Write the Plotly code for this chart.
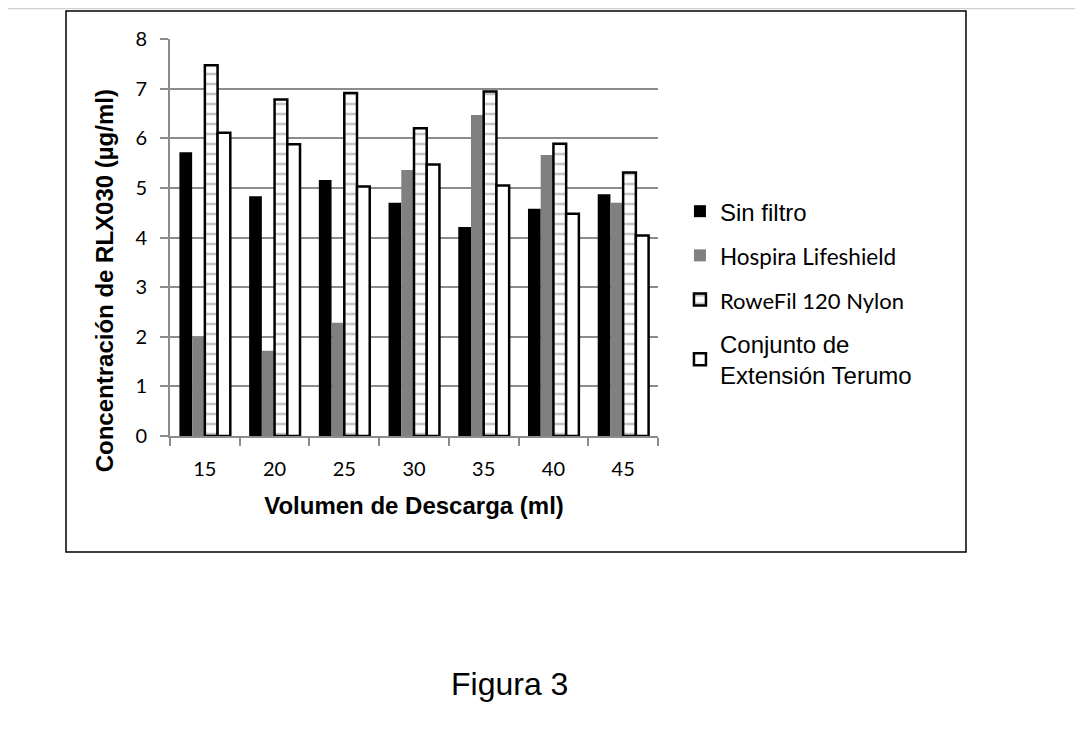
import plotly.graph_objects as go

volumes = ["15", "20", "25", "30", "35", "40", "45"]
sin_filtro = [5.72, 4.83, 5.16, 4.70, 4.21, 4.58, 4.87]
hospira = [1.99, 1.72, 2.28, 5.36, 6.47, 5.66, 4.70]
rowefil = [7.47, 6.78, 6.91, 6.20, 6.94, 5.89, 5.31]
terumo = [6.11, 5.88, 5.03, 5.47, 5.05, 4.48, 4.04]

series_names = [
    'Sin filtro',
    '<span style="font-family:Lato;font-size:22.5px">Hospira Lifeshield</span>',
    '<span style="font-family:Lato;font-size:22px">RoweFil 120 Nylon</span>',
    'Conjunto de<br>Extensión Terumo',
]

GRID = "#8c8c8c"
ARIAL = "Liberation Sans, Arial"

fig = go.Figure()
fig.add_trace(go.Bar(x=volumes, y=sin_filtro, name=series_names[0], legendgroup="a",
                     marker=dict(color="black", line=dict(width=0))))
fig.add_trace(go.Bar(x=volumes, y=hospira, name=series_names[1], legendgroup="b",
                     marker=dict(color="#808080", line=dict(width=0))))
fig.add_trace(go.Bar(x=volumes, y=rowefil, name=series_names[2], legendgroup="c",
                     marker=dict(color="white", line=dict(color="black", width=2.5),
                                 pattern=dict(shape="-", fgcolor="#8a8a8a", bgcolor="white",
                                              size=10, solidity=0.25))))
fig.add_trace(go.Bar(x=volumes, y=terumo, name=series_names[3], legendgroup="d",
                     marker=dict(color="white", line=dict(color="black", width=2.5))))

fig.update_layout(
    width=1083, height=745,
    margin=dict(l=162, r=433, t=31, b=317),
    paper_bgcolor="white", plot_bgcolor="white",
    barmode="group", bargap=0.27, bargroupgap=0,
    font=dict(family=ARIAL, color="black", size=24),
    showlegend=True,
    legend=dict(x=1.045, xanchor="left", y=0.622, yanchor="top",
                font=dict(family=ARIAL, size=24, color="black"),
                tracegroupgap=10, bgcolor="rgba(0,0,0,0)"),
)

fig.update_xaxes(
    showline=True, linecolor=GRID, linewidth=2,
    ticks="outside", tickson="boundaries", ticklen=8, tickcolor=GRID, tickwidth=2,
    tickfont=dict(family="Lato", size=20, color="black"),
    ticklabelstandoff=14,
    title=dict(text="<b>Volumen de Descarga (ml)</b>", font=dict(family=ARIAL, size=24), standoff=18),
)
fig.update_yaxes(
    range=[0, 8], dtick=1,
    showline=True, linecolor=GRID, linewidth=2,
    showgrid=True, gridcolor=GRID, gridwidth=2,
    ticks="outside", ticklen=8, tickcolor=GRID, tickwidth=2,
    tickfont=dict(family="Lato", size=20, color="black"),
    ticklabelstandoff=9,
    zeroline=False,
)

# y-axis title placed like the original (below the plot centre)
fig.add_annotation(text="<b>Concentración de RLX030 (µg/ml)</b>", textangle=-90,
                   xref="paper", yref="paper", x=-0.135, y=0.39,
                   xanchor="center", yanchor="middle",
                   showarrow=False, font=dict(family=ARIAL, size=24, color="black"))

fig.add_annotation(text="Figura 3", xref="paper", yref="paper", x=0.6947, y=-0.6247,
                   xanchor="center", yanchor="middle",
                   showarrow=False, font=dict(family=ARIAL, size=32, color="black"))

# frame around the chart
fig.add_shape(type="rect", xref="paper", yref="paper",
              x0=-0.2131, x1=1.6311, y0=-0.2922, y1=1.0705,
              line=dict(color="black", width=1.5), layer="below")
# faint page edge at the top
fig.add_shape(type="line", xref="paper", yref="paper",
              x0=-0.35, x1=1.88, y0=1.0768, y1=1.0768,
              line=dict(color="#d0d0d0", width=1.5))

fig.write_html("out.html")
